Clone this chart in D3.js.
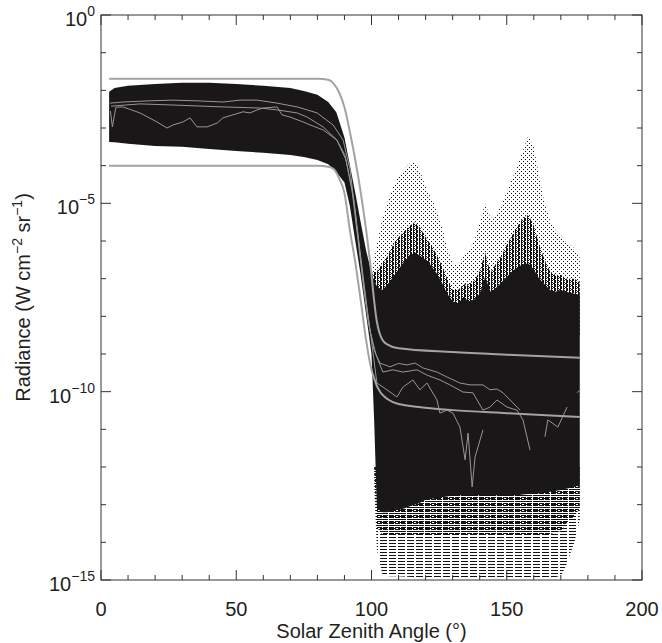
<!DOCTYPE html>
<html>
<head>
<meta charset="utf-8">
<script src="https://cdn.jsdelivr.net/npm/d3@7/dist/d3.min.js"></script>
<style>
  body { margin: 0; background: #fff; }
  svg { font-family: "Liberation Sans", Arial, sans-serif; }
  .lab { font-size: 20px; fill: #231f20; }
</style>
</head>
<body>
<script>
// values are log10 of radiance (W cm-2 sr-1)

// dense black cloud of points: top and bottom edge per zenith angle
var coreAngles = [3,5,10,20,30,40,50,60,70,75,80,84,87,90,92,94,96,98,100,101,102,104,106,108,110,112,114,116,118,120,
  122,124,126,128,130,132,134,136,138,140,142,144,146,148,150,152,154,156,158,160,162,164,166,168,170,172,175,177];
var coreTop = [-2.04,-1.94,-1.88,-1.83,-1.80,-1.80,-1.83,-1.88,-1.94,-2.02,-2.12,-2.31,-2.58,-3.25,-3.98,-4.72,-5.50,-6.25,-6.85,-7.05,
  -7.20,-7.30,-7.15,-6.95,-6.75,-6.55,-6.40,-6.30,-6.40,-6.50,-6.65,-6.85,-7.10,-7.40,-7.60,-7.65,-7.50,-7.60,-7.55,-7.40,
  -6.95,-7.35,-7.25,-7.10,-6.95,-6.80,-6.70,-6.62,-6.60,-6.75,-7.00,-7.15,-7.30,-7.35,-7.30,-7.35,-7.40,-7.43];
var coreBot = [-3.37,-3.38,-3.42,-3.48,-3.50,-3.56,-3.61,-3.66,-3.72,-3.77,-3.85,-3.96,-4.17,-4.45,-5.07,-6.00,-6.90,-7.95,-9.00,-10.8,
  -13.1,-13.2,-13.2,-13.15,-13.14,-13.1,-13.05,-13.0,-12.95,-12.87,-12.85,-12.82,-12.8,-12.78,-12.75,-12.75,-12.75,-12.75,-12.75,-12.75,
  -12.75,-12.75,-12.75,-12.75,-12.75,-12.75,-12.75,-12.73,-12.72,-12.72,-12.7,-12.68,-12.66,-12.64,-12.61,-12.58,-12.53,-12.48];

// sparse points above the night-side cloud
var fringeAngles = [100,102,104,106,108,110,112,114,116,118,120,122,124,126,128,130,132,134,136,138,
  140,142,144,146,148,150,152,154,156,158,160,162,164,166,168,170,172,175,177];
var fringeTop = [-6.85,-6.10,-5.40,-4.95,-4.55,-4.30,-4.10,-3.95,-3.90,-4.15,-4.55,-4.85,-5.15,-5.60,-6.20,-6.60,-6.65,-6.40,-6.25,-6.00,
  -5.50,-5.00,-5.40,-5.30,-5.05,-4.70,-4.35,-4.00,-3.60,-3.20,-3.50,-4.30,-5.00,-5.45,-5.70,-5.85,-6.00,-6.20,-6.45];
var fringeMid = [-6.85,-6.8,-6.6,-6.4,-6.1,-5.9,-5.75,-5.6,-5.5,-5.65,-5.9,-6.1,-6.35,-6.65,-7.0,-7.3,-7.3,-7.15,-7.15,-7.05,
  -6.8,-6.3,-6.85,-6.6,-6.4,-6.1,-5.85,-5.6,-5.4,-5.3,-5.6,-6.1,-6.5,-6.8,-6.9,-6.9,-7.0,-7.0,-7.1];

// streaky points below the night-side cloud
var lowAngles = [101,102,104,106,108,110,115,120,125,130,140,150,160,165,170,172,175,177];
var lowMid = [-12.0,-13.6,-13.8,-13.8,-13.8,-13.8,-13.8,-13.8,-13.8,-13.8,-13.8,-13.8,-13.8,-13.8,-13.7,-13.5,-13.3,-13.1];
var lowBot = [-12.5,-14.2,-14.85,-14.9,-14.9,-14.9,-14.92,-14.95,-14.95,-14.95,-14.95,-14.95,-14.95,-14.95,-14.9,-14.6,-14.0,-13.4];

// smooth upper / lower envelope curves
var envAngles = [3,80,84,86,88,90,92,94,96,98,100,101,102,103,104,106,110,130,150,177];
var envUpper = [-1.69,-1.69,-1.72,-1.82,-2.05,-2.45,-3.1,-3.85,-4.7,-5.7,-6.9,-7.6,-8.15,-8.45,-8.62,-8.75,-8.85,-8.95,-9.02,-9.1];
var envLower = [-4.0,-4.0,-4.03,-4.09,-4.33,-4.73,-5.71,-6.56,-7.57,-8.63,-9.42,-9.65,-9.85,-9.98,-10.08,-10.2,-10.33,-10.49,-10.57,-10.67];

// binned statistic lines (null = gap)
var medAnglesA = [3.3,8.1,17.4,26.6,35.9,45.1,51.4,57.7,65.1,72.5,79.9,85.8,89.5,92.1,94.3,96.5,98.7,100.9,103.1,106.8,
  110,113.1,116.1,119.0,124.2,127.9,132.7,136.4,141.2,143.8,146.4,148.6,152.3,154.9];
var medA = [-2.34,-2.31,-2.28,-2.26,-2.28,-2.31,-2.26,-2.26,-2.34,-2.44,-2.60,-2.92,-3.32,-4.11,-5.44,-6.77,-8.10,-8.89,-9.24,-9.34,
  -9.25,-9.29,-9.24,-9.37,-9.48,-9.61,-9.77,-9.82,-9.82,-9.95,-9.93,-10.03,-10.30,-10.49];
var medAnglesB = [3.7,14.4,26.6,45.1,58.8,65.1,72.5,76.2,82.1,87.2,90.2,92.8,95.0,97.2,99.4,101.7,104.2,107.9,111.6,116.8,
  120.5,125.3,129.0,133.8,137.5,141.2,143.8,146.4,150.1,153.8,156.0,158.6];
var medB = [-2.42,-2.36,-2.39,-2.44,-2.47,-2.52,-2.60,-2.71,-2.97,-3.32,-3.72,-4.65,-5.97,-7.30,-8.36,-9.03,-9.48,-9.42,-9.48,-9.42,
  -9.56,-9.69,-9.82,-10.01,-10.03,-10.49,-10.41,-10.22,-10.41,-10.49,-10.75,-11.55];
var medAnglesC = [3.5,4.2,5.5,8.1,14.4,20.7,24.4,26.6,30.3,32.9,35.5,39.2,42.9,45.1,48.8,52.5,55.1,57.7,59.9,65.1,
  66.9,69.9,74.7,78.4,82.1,87.2,90.6,93.5,95.7,98.0,100.2,102.0,105.7,109.4,111.6,115.3,117.9,120.5,124.2,125.3,
  127.9,130.1,132.7,134.6,135.7,137.2,138.3,141.2,150,164.1,165.2,168.9,172.3,174,176.0,177.1];
var medC = [-2.55,-2.97,-2.45,-2.44,-2.60,-2.84,-3.00,-2.92,-2.84,-2.73,-2.97,-2.97,-2.87,-2.73,-2.65,-2.57,-2.60,-2.52,-2.47,-2.44,
  -2.65,-2.71,-2.84,-2.95,-3.05,-3.32,-3.85,-4.91,-6.24,-7.57,-8.76,-9.77,-9.95,-10.14,-9.88,-9.69,-9.95,-9.77,-10.22,-10.57,
  -10.49,-10.57,-10.94,-11.81,-11.10,-12.53,-11.73,-11.02,null,-11.20,-10.75,-10.94,-10.41,null,-10.03,-9.95];

// axes
var xTicks = d3.range(0, 201, 10);
var xLabels = [0, 50, 100, 150, 200];
var yDecades = d3.range(-15, 1, 1);
var yLabels = [0, -5, -10, -15];

var margin = {top: 15, right: 20, bottom: 63, left: 101},
    width = 662 - margin.left - margin.right,
    height = 643 - margin.top - margin.bottom;

var x = d3.scaleLinear().domain([0, 200]).range([0, width]);
var y = d3.scaleLog().domain([1e-15, 1]).range([height, 0]);
var p = function(e) { return y(Math.pow(10, e)); };

var svg = d3.select("body").append("svg")
    .attr("width", 662)
    .attr("height", 643);

var defs = svg.append("defs");
var pat1 = defs.append("pattern").attr("id", "sparse").attr("patternUnits", "userSpaceOnUse")
    .attr("width", 4).attr("height", 4);
pat1.append("rect").attr("x", 0).attr("y", 0).attr("width", 1).attr("height", 1).attr("fill", "#111");
pat1.append("rect").attr("x", 2).attr("y", 2).attr("width", 1).attr("height", 1).attr("fill", "#111");
var pat2 = defs.append("pattern").attr("id", "medium").attr("patternUnits", "userSpaceOnUse")
    .attr("width", 3).attr("height", 2);
pat2.append("rect").attr("x", 0).attr("y", 0).attr("width", 1).attr("height", 2).attr("fill", "#111");
pat2.append("rect").attr("x", 1).attr("y", 1).attr("width", 1).attr("height", 1).attr("fill", "#111");
var pat3 = defs.append("pattern").attr("id", "streaks").attr("patternUnits", "userSpaceOnUse")
    .attr("width", 9).attr("height", 3);
pat3.append("rect").attr("x", 0).attr("y", 0).attr("width", 7).attr("height", 1).attr("fill", "#111");
var pat4 = defs.append("pattern").attr("id", "streaks2").attr("patternUnits", "userSpaceOnUse")
    .attr("width", 6).attr("height", 2);
pat4.append("rect").attr("x", 0).attr("y", 0).attr("width", 5).attr("height", 1).attr("fill", "#111");

var g = svg.append("g")
    .attr("transform", "translate(" + margin.left + "," + margin.top + ")");

function band(angles, lo, hi) {
  return angles.map(function(a, i) { return {a: a, lo: lo[i], hi: hi[i]}; });
}
var area = d3.area()
    .x(function(d) { return x(d.a); })
    .y0(function(d) { return p(d.lo); })
    .y1(function(d) { return p(d.hi); });

// fringes first, the solid cloud goes on top of them
var inner = fringeAngles.map(function() { return -8.5; });
g.append("path").attr("d", area(band(fringeAngles, inner, fringeTop))).attr("fill", "url(#sparse)");
g.append("path").attr("d", area(band(fringeAngles, inner, fringeMid))).attr("fill", "url(#medium)");
var innerLow = lowAngles.map(function() { return -12.0; });
g.append("path").attr("d", area(band(lowAngles, lowBot, innerLow))).attr("fill", "url(#streaks)");
g.append("path").attr("d", area(band(lowAngles, lowMid, innerLow))).attr("fill", "url(#streaks2)");

g.append("path")
    .attr("d", area(band(coreAngles, coreBot, coreTop)))
    .attr("fill", "#1a1718");

// envelope curves
var curve = d3.line()
    .defined(function(d) { return d.v !== null; })
    .x(function(d) { return x(d.a); })
    .y(function(d) { return p(d.v); });
function pts(angles, vals) {
  return angles.map(function(a, i) { return {a: a, v: vals[i]}; });
}
g.append("path").attr("d", curve.curve(d3.curveMonotoneX)(pts(envAngles, envUpper)))
    .attr("fill", "none").attr("stroke", "#a3a3a3").attr("stroke-width", 2);
g.append("path").attr("d", curve.curve(d3.curveMonotoneX)(pts(envAngles, envLower)))
    .attr("fill", "none").attr("stroke", "#a3a3a3").attr("stroke-width", 2);

// statistic lines
[[medAnglesA, medA], [medAnglesB, medB], [medAnglesC, medC]].forEach(function(s) {
  g.append("path").attr("d", curve.curve(d3.curveLinear)(pts(s[0], s[1])))
      .attr("fill", "none").attr("stroke", "#969696").attr("stroke-width", 1);
});

// frame
g.append("rect").attr("width", width).attr("height", height)
    .attr("fill", "none").attr("stroke", "#333").attr("stroke-width", 1);

// x ticks on bottom and top, pointing inward
xTicks.forEach(function(t) {
  var len = (t % 50 === 0) ? 10 : 5;
  g.append("line").attr("x1", x(t)).attr("x2", x(t)).attr("y1", height).attr("y2", height - len)
      .attr("stroke", "#333");
  g.append("line").attr("x1", x(t)).attr("x2", x(t)).attr("y1", 0).attr("y2", len)
      .attr("stroke", "#333");
});
xLabels.forEach(function(t) {
  g.append("text").attr("class", "lab").attr("x", x(t)).attr("y", height + 36)
      .attr("text-anchor", "middle").text(t);
});

// y ticks on left and right
yDecades.forEach(function(e) {
  var len = (e % 5 === 0) ? 10 : 5;
  g.append("line").attr("x1", 0).attr("x2", len).attr("y1", p(e)).attr("y2", p(e)).attr("stroke", "#333");
  g.append("line").attr("x1", width).attr("x2", width - len).attr("y1", p(e)).attr("y2", p(e)).attr("stroke", "#333");
});
yLabels.forEach(function(e) {
  var sup = e === 0 ? "0" : "\u2212" + (-e);
  var t = g.append("text").attr("class", "lab").attr("x", -6).attr("y", p(e) + 11)
      .attr("text-anchor", "end");
  t.append("tspan").text("10");
  t.append("tspan").attr("dy", -10).style("font-size", "14px").text(sup);
});

// axis titles
svg.append("text").attr("class", "lab")
    .attr("x", margin.left + width / 2).attr("y", 638)
    .attr("text-anchor", "middle")
    .text("Solar Zenith Angle (\u00b0)");

var yt = svg.append("text").attr("class", "lab")
    .attr("transform", "translate(30," + (margin.top + height / 2) + ") rotate(-90)")
    .attr("text-anchor", "middle");
yt.append("tspan").text("Radiance (W cm");
yt.append("tspan").attr("dy", -8).style("font-size", "14px").text("\u22122");
yt.append("tspan").attr("dy", 8).text(" sr");
yt.append("tspan").attr("dy", -8).style("font-size", "14px").text("\u22121");
yt.append("tspan").attr("dy", 8).text(")");
</script>
</body>
</html>
